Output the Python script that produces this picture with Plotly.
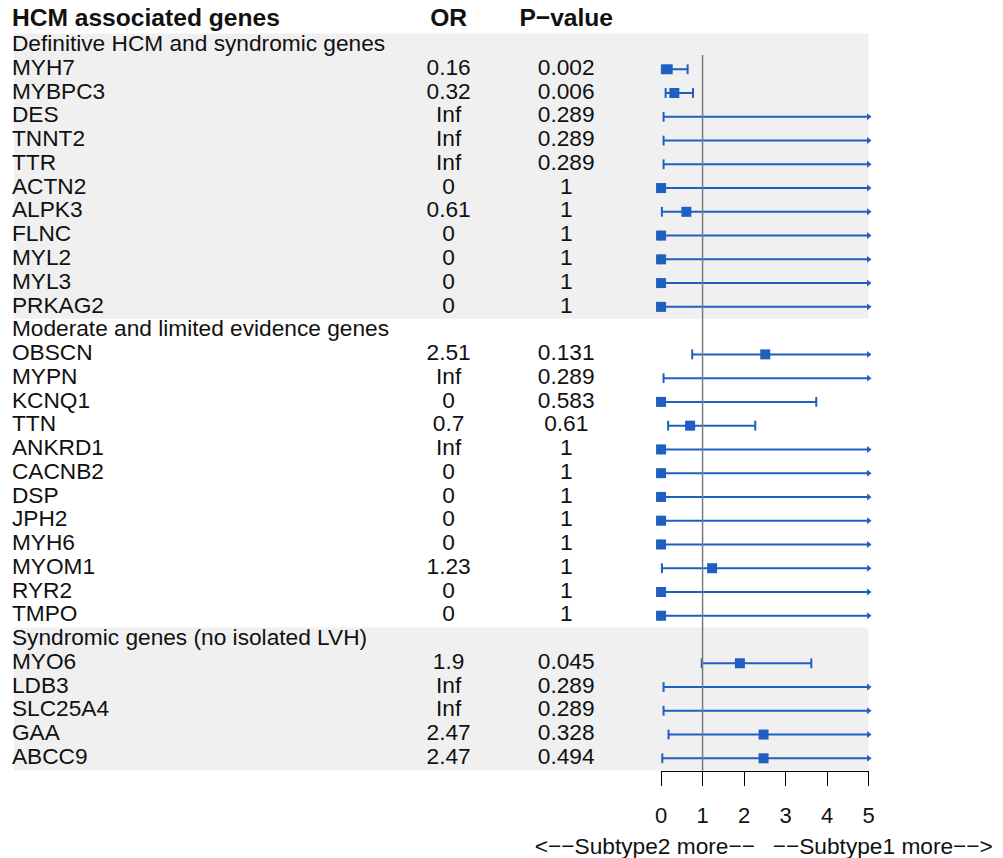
import math
import plotly.graph_objects as go

# ---------------- data ----------------
group_names = ["Definitive HCM and syndromic genes",
               "Moderate and limited evidence genes",
               "Syndromic genes (no isolated LVH)"]
group_sizes = [11, 12, 5]
group_shaded = [True, False, True]

genes = ["MYH7", "MYBPC3", "DES", "TNNT2", "TTR", "ACTN2", "ALPK3", "FLNC", "MYL2", "MYL3", "PRKAG2",
         "OBSCN", "MYPN", "KCNQ1", "TTN", "ANKRD1", "CACNB2", "DSP", "JPH2", "MYH6", "MYOM1", "RYR2", "TMPO",
         "MYO6", "LDB3", "SLC25A4", "GAA", "ABCC9"]
or_labels = ["0.16", "0.32", "Inf", "Inf", "Inf", "0", "0.61", "0", "0", "0", "0",
             "2.51", "Inf", "0", "0.7", "Inf", "0", "0", "0", "0", "1.23", "0", "0",
             "1.9", "Inf", "Inf", "2.47", "2.47"]
p_labels = ["0.002", "0.006", "0.289", "0.289", "0.289", "1", "1", "1", "1", "1", "1",
            "0.131", "0.289", "0.583", "0.61", "1", "1", "1", "1", "1", "1", "1", "1",
            "0.045", "0.289", "0.289", "0.328", "0.494"]
INF = float("inf")
est = [0.16, 0.32, None, None, None, 0, 0.61, 0, 0, 0, 0,
       2.51, None, 0, 0.7, 0, 0, 0, 0, 0, 1.23, 0, 0,
       1.9, None, None, 2.47, 2.47]
ci_lo = [0.02, 0.11, 0.06, 0.06, 0.06, 0, 0.02, 0, 0, 0, 0,
         0.75, 0.06, 0, 0.17, 0, 0, 0, 0, 0, 0.02, 0, 0,
         0.98, 0.06, 0.06, 0.18, 0.03]
ci_hi = [0.64, 0.77, INF, INF, INF, INF, INF, INF, INF, INF, INF,
         INF, INF, 3.74, 2.27, INF, INF, INF, INF, INF, INF, INF, INF,
         3.62, INF, INF, INF, INF]
x_ticks = [0, 1, 2, 3, 4, 5]
x_max = 5
ref_value = 1
col_headers = ["HCM associated genes", "OR", "P\u2212value"]
x_label_left = "<\u2212\u2212Subtype2 more\u2212\u2212"
x_label_right = "\u2212\u2212Subtype1 more\u2212\u2212>"

# ---------------- layout constants ----------------
W, H = 1003, 858
ROW0_PX, ROW_PX = 45.5, 23.76
y_top = -ROW0_PX / ROW_PX
y_bot = (H - ROW0_PX) / ROW_PX
FONT = "Liberation Sans, Arial, sans-serif"
BLUE = "#1f5fbf"
TXT = "#111111"


def row_to_paper(rw):
    return (y_bot - rw) / (y_bot - y_top)


# row positions
gene_rows, header_rows = [], []
r = 0
for gs in group_sizes:
    header_rows.append(r)
    r += 1
    for _ in range(gs):
        gene_rows.append(r)
        r += 1
last_row = r - 1
axis_row = last_row + 0.52

fig = go.Figure()

# shaded bands (paper coords so they sit below every subplot)
shapes = []
for hr, gs, sh in zip(header_rows, group_sizes, group_shaded):
    if sh:
        shapes.append(dict(type="rect", xref="paper", yref="paper", x0=8 / W, x1=873 / W,
                           y0=row_to_paper(hr + gs + 0.5), y1=row_to_paper(hr - 0.5),
                           fillcolor="#f0f0f0", line=dict(width=0), layer="below"))
# reference line
shapes.append(dict(type="line", xref="x", yref="y", x0=ref_value, x1=ref_value,
                   y0=0.4, y1=axis_row, line=dict(color="#7a7a7a", width=1.5)))

# CI lines
lx, ly = [], []
cap_x, cap_y, arr_x, arr_y = [], [], [], []
for row, lo, hi in zip(gene_rows, ci_lo, ci_hi):
    h = min(hi, x_max)
    lx += [lo, h, None]
    ly += [row, row, None]
    cap_x.append(lo); cap_y.append(row)
    if math.isinf(hi) or hi > x_max:
        arr_x.append(x_max); arr_y.append(row)
    else:
        cap_x.append(hi); cap_y.append(row)

# table text (x2 in pixel units)
tf = dict(family=FONT, size=22.7, color=TXT)
fig.add_trace(go.Scatter(x=[6] * (len(genes) + len(group_names)),
                         y=gene_rows + header_rows, text=genes + group_names,
                         mode="text", textposition="middle right", textfont=tf,
                         cliponaxis=False, xaxis="x2", yaxis="y", hoverinfo="skip", showlegend=False))
fig.add_trace(go.Scatter(x=[448] * len(genes), y=gene_rows, text=or_labels,
                         mode="text", textposition="middle center", textfont=tf,
                         cliponaxis=False, xaxis="x2", yaxis="y", hoverinfo="skip", showlegend=False))
fig.add_trace(go.Scatter(x=[567] * len(genes), y=gene_rows, text=p_labels,
                         mode="text", textposition="middle center", textfont=tf,
                         cliponaxis=False, xaxis="x2", yaxis="y", hoverinfo="skip", showlegend=False))
hf = dict(family=FONT, size=24.6, color=TXT, weight="bold")
fig.add_trace(go.Scatter(x=[6], y=[-1.07], text=[col_headers[0]], mode="text",
                         textposition="middle right", textfont=hf, cliponaxis=False,
                         xaxis="x2", yaxis="y", hoverinfo="skip", showlegend=False))
fig.add_trace(go.Scatter(x=[448, 567], y=[-1.07, -1.07], text=col_headers[1:], mode="text",
                         textposition="middle center", textfont=hf, cliponaxis=False,
                         xaxis="x2", yaxis="y", hoverinfo="skip", showlegend=False))
# x label
sub_row = (848 - ROW0_PX) / ROW_PX
fig.add_trace(go.Scatter(x=[758], y=[sub_row], text=[x_label_left], mode="text",
                         textposition="middle left", textfont=tf, cliponaxis=False,
                         xaxis="x2", yaxis="y", hoverinfo="skip", showlegend=False))
fig.add_trace(go.Scatter(x=[776], y=[sub_row], text=[x_label_right], mode="text",
                         textposition="middle right", textfont=tf, cliponaxis=False,
                         xaxis="x2", yaxis="y", hoverinfo="skip", showlegend=False))

# forest marks
fig.add_trace(go.Scatter(x=lx, y=ly, mode="lines", line=dict(color=BLUE, width=2),
                         xaxis="x", yaxis="y", hoverinfo="skip", showlegend=False))
fig.add_trace(go.Scatter(x=cap_x, y=cap_y, mode="markers", cliponaxis=False,
                         marker=dict(symbol="line-ns", size=7, line=dict(color=BLUE, width=2)),
                         xaxis="x", yaxis="y", hoverinfo="skip", showlegend=False))
fig.add_trace(go.Scatter(x=arr_x, y=arr_y, mode="markers", cliponaxis=False,
                         marker=dict(symbol="triangle-right", size=6, color=BLUE),
                         xaxis="x", yaxis="y", hoverinfo="skip", showlegend=False))
px_ = [e for e in est if e is not None]
py_ = [rw for e, rw in zip(est, gene_rows) if e is not None]
fig.add_trace(go.Scatter(x=px_, y=py_, mode="markers", cliponaxis=False,
                         marker=dict(symbol="square", size=10, color=BLUE),
                         xaxis="x", yaxis="y", showlegend=False))

pos = row_to_paper(axis_row)
fig.update_layout(
    width=W, height=H, margin=dict(l=0, r=0, t=0, b=0),
    paper_bgcolor="white", plot_bgcolor="rgba(0,0,0,0)",
    shapes=shapes, showlegend=False,
    font=dict(family=FONT, color=TXT),
    xaxis=dict(domain=[663 / W, 873 / W], range=[0, x_max], anchor="free", position=pos,
               showline=True, linecolor="black", linewidth=1.3, ticks="outside",
               ticklen=14, tickwidth=1.3, tickcolor="black", tickvals=x_ticks,
               tickfont=dict(family=FONT, size=22, color=TXT), ticklabelstandoff=11,
               showgrid=False, zeroline=False, fixedrange=True),
    xaxis2=dict(domain=[0, 1], range=[0, W], anchor="y", visible=False, fixedrange=True),
    yaxis=dict(domain=[0, 1], range=[y_bot, y_top], visible=False, showgrid=False,
               zeroline=False, fixedrange=True),
)

fig.write_html("out.html", config={"displayModeBar": False},
               post_script="document.body.style.margin='0px';")
